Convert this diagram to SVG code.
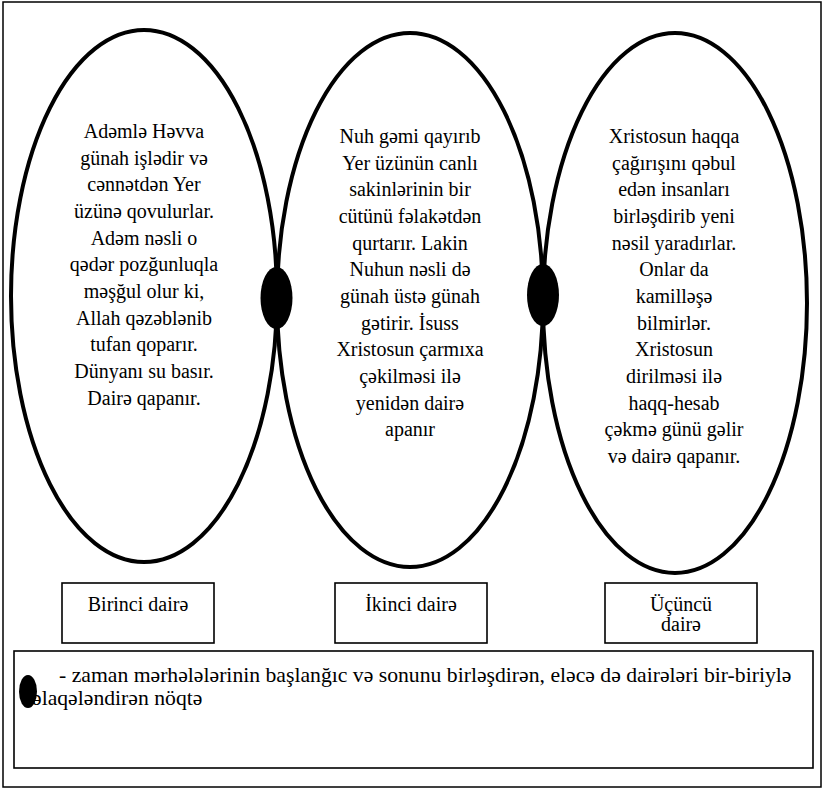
<svg xmlns="http://www.w3.org/2000/svg" width="824" height="790" viewBox="0 0 824 790">
<style>
.ring{fill:none;stroke:#000;stroke-width:4;}
.box{fill:#fff;stroke:#000;stroke-width:1.6;}
.dot{fill:#000;}
.t{font-family:'Liberation Serif','Times New Roman',Tinos,'Noto Serif','DejaVu Serif',serif;font-size:20px;fill:#000;}
.lg{font-size:21.7px;}
</style>
<rect x="0" y="0" width="824" height="790" fill="#fff"/>
<rect id="frame" x="3" y="2" width="818" height="785" fill="none" stroke="#000" stroke-width="1.5"/>
<g class="t">
<g id="circle1" text-anchor="middle">
<ellipse class="ring" cx="144" cy="296" rx="133" ry="266"/>
<text x="144" y="138">Adəmlə Həvva</text>
<text x="144" y="164.7">günah işlədir və</text>
<text x="144" y="191.3">cənnətdən Yer</text>
<text x="144" y="218">üzünə qovulurlar.</text>
<text x="144" y="244.7">Adəm nəsli o</text>
<text x="144" y="271.3">qədər pozğunluqla</text>
<text x="144" y="298">məşğul olur ki,</text>
<text x="144" y="324.7">Allah qəzəblənib</text>
<text x="144" y="351.3">tufan qoparır.</text>
<text x="144" y="378">Dünyanı su basır.</text>
<text x="144" y="404.7">Dairə qapanır.</text>
</g>
<g id="circle2" text-anchor="middle">
<ellipse class="ring" cx="410" cy="300" rx="133" ry="267"/>
<text x="410" y="143">Nuh gəmi qayırıb</text>
<text x="410" y="169.7">Yer üzünün canlı</text>
<text x="410" y="196.3">sakinlərinin bir</text>
<text x="410" y="223">cütünü fəlakətdən</text>
<text x="410" y="249.7">qurtarır. Lakin</text>
<text x="410" y="276.3">Nuhun nəsli də</text>
<text x="410" y="303">günah üstə günah</text>
<text x="410" y="329.7">gətirir. İsuss</text>
<text x="410" y="356.3">Xristosun çarmıxa</text>
<text x="410" y="383">çəkilməsi ilə</text>
<text x="410" y="409.7">yenidən dairə</text>
<text x="410" y="436.3">apanır</text>
</g>
<g id="circle3" text-anchor="middle">
<ellipse class="ring" cx="675" cy="303" rx="132" ry="270"/>
<text x="674" y="143">Xristosun haqqa</text>
<text x="674" y="169.7">çağırışını qəbul</text>
<text x="674" y="196.3">edən insanları</text>
<text x="674" y="223">birləşdirib yeni</text>
<text x="674" y="249.7">nəsil yaradırlar.</text>
<text x="674" y="276.3">Onlar da</text>
<text x="674" y="303">kamilləşə</text>
<text x="674" y="329.7">bilmirlər.</text>
<text x="674" y="356.3">Xristosun</text>
<text x="674" y="383">dirilməsi ilə</text>
<text x="674" y="409.7">haqq-hesab</text>
<text x="674" y="436.3">çəkmə günü gəlir</text>
<text x="674" y="463">və dairə qapanır.</text>
</g>
<g id="connectors">
<ellipse id="dot1" class="dot" cx="276.5" cy="298" rx="16" ry="31"/>
<ellipse id="dot2" class="dot" cx="543" cy="295" rx="16" ry="31"/>
</g>
<g id="label1" text-anchor="middle">
<rect class="box" x="62" y="583" width="152" height="60"/>
<text x="138" y="611">Birinci dairə</text>
</g>
<g id="label2" text-anchor="middle">
<rect class="box" x="335" y="583" width="152" height="60"/>
<text x="411" y="611">İkinci dairə</text>
</g>
<g id="label3" text-anchor="middle">
<rect class="box" x="605" y="583" width="152" height="60"/>
<text x="681" y="611">Üçüncü</text>
<text x="681" y="631">dairə</text>
</g>
<g id="legend">
<rect class="box" x="14" y="651" width="799" height="117"/>
<text class="lg" x="59" y="682">- zaman mərhələlərinin başlanğıc və sonunu birləşdirən, eləcə də dairələri bir-biriylə</text>
<text class="lg" x="32" y="705">əlaqələndirən nöqtə</text>
<ellipse class="dot" cx="28" cy="691.5" rx="9" ry="16.5"/>
</g>
</g>
</svg>
